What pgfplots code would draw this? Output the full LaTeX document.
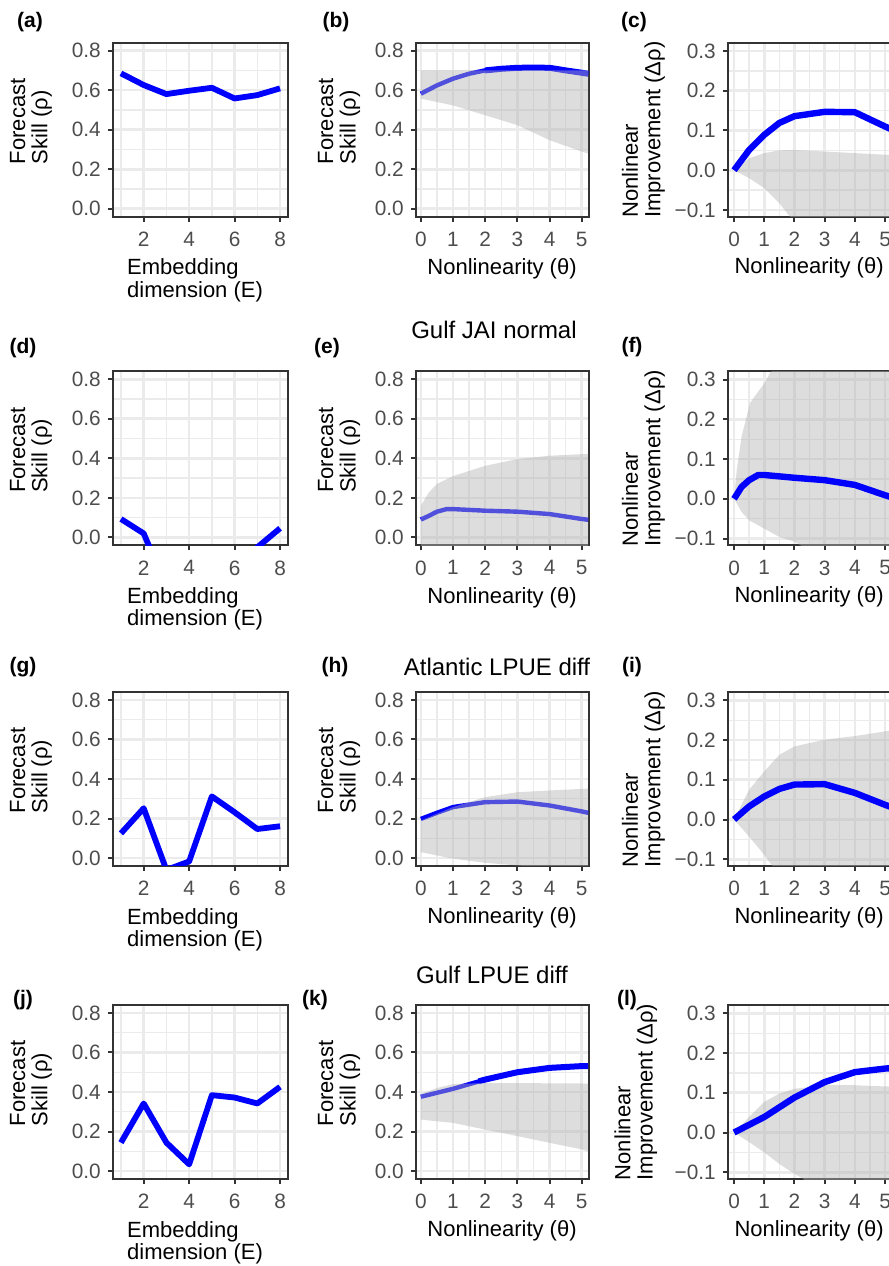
\documentclass[border=0pt]{standalone}
\usepackage{fontspec}
\setmainfont{Liberation Sans}
\usepackage{pgfplots}
\pgfplotsset{compat=1.18}
\definecolor{gg20}{HTML}{333333}
\definecolor{gg30}{HTML}{4D4D4D}
\definecolor{gg92}{HTML}{EBEBEB}
\definecolor{rib}{HTML}{B3B3B3}
\definecolor{lineblue}{HTML}{0000FF}
\pgfplotsset{
  ggbase/.style={
    scale only axis, anchor=south west, height=87pt,
    axis line style={draw=gg20, line width=1pt},
    tick style={draw=gg20, line width=1pt},
    major tick length=2.6pt, minor tick length=0pt,
    tick align=outside, xtick pos=left, ytick pos=left,
    xmajorgrids=true, ymajorgrids=true, xminorgrids=true, yminorgrids=true,
    major grid style={draw=gg92, line width=1.3pt},
    minor grid style={draw=gg92, line width=0.65pt},
    tick label style={font=\fontsize{10.4}{12}\selectfont, text=gg30},
    xticklabel style={yshift=-1.5pt},
    xlabel style={font=\fontsize{11}{11.2}\selectfont, align=left, anchor=center},
    ylabel style={font=\fontsize{11}{11.2}\selectfont, align=left, anchor=center},
  },
  col1/.style={ggbase, width=87.5pt, xmin=0.65, xmax=8.35, ymin=-0.04, ymax=0.84,
    xtick={2,4,6,8}, xticklabels={2,4,6,8}, minor xtick={1,3,5,7},
    ytick={0,0.2,0.4,0.6,0.8}, yticklabels={0.0,0.2,0.4,0.6,0.8}, minor ytick={0.1,0.3,0.5,0.7},
    xlabel={Embedding\\dimension (E)}, ylabel={Forecast\\Skill (ρ)},
    xlabel style={at={(axis description cs:0.469,-0.365)}},
    ylabel style={at={(axis description cs:-0.469,0.548)}},
  },
  col2/.style={ggbase, width=86.25pt, xmin=-0.15, xmax=5.21, ymin=-0.04, ymax=0.84,
    xtick={0,1,2,3,4,5}, xticklabels={0,1,2,3,4,5}, minor xtick={0.5,1.5,2.5,3.5,4.5},
    ytick={0,0.2,0.4,0.6,0.8}, yticklabels={0.0,0.2,0.4,0.6,0.8}, minor ytick={0.1,0.3,0.5,0.7},
    xlabel={Nonlinearity (θ)}, ylabel={Forecast\\Skill (ρ)},
    xlabel style={at={(axis description cs:0.499,-0.3)}},
    ylabel style={at={(axis description cs:-0.446,0.548)}},
  },
  col3/.style={ggbase, width=87pt, xmin=-0.2, xmax=5.56, ymin=-0.117, ymax=0.321,
    xtick={0,1,2,3,4,5}, xticklabels={0,1,2,3,4,5}, minor xtick={0.5,1.5,2.5,3.5,4.5,5.5},
    ytick={-0.1,0,0.1,0.2,0.3}, yticklabels={−0.1,0.0,0.1,0.2,0.3}, minor ytick={-0.05,0.05,0.15,0.25},
    xlabel={Nonlinearity (θ)}, ylabel={Nonlinear\\Improvement (Δρ)},
    xlabel style={at={(axis description cs:0.466,-0.296)}},
    ylabel style={at={(axis description cs:-0.486,0.5)}},
  },
  l1/.style={draw=lineblue, line width=2.9pt, line join=round},
  l2/.style={draw=lineblue, line width=2.2pt, line join=round},
  l2b/.style={draw=lineblue, line width=3pt, line join=round},
  l3/.style={draw=lineblue, line width=3.2pt, line join=round},
  rb/.style={fill=rib, fill opacity=0.45, draw=none},
}
\tikzset{lett/.style={font=\fontsize{10.5}{12}\selectfont\bfseries, anchor=center},
         ttl/.style={font=\fontsize{12}{14}\selectfont, anchor=center}}
\begin{document}
\begin{tikzpicture}
\useasboundingbox (0,0) rectangle (444.5pt,633pt);
\clip (0,0) rectangle (444.5pt,633pt);

% ---------------- Row 1 ----------------
\begin{axis}[col1, at={(56.5pt,524.65pt)}]
\addplot[l1] coordinates {(1,0.685)(2,0.626)(3,0.580)(4,0.597)(5,0.612)(6,0.558)(7,0.575)(8,0.609)};
\end{axis}
\begin{axis}[col2, at={(208pt,524.65pt)}]
\addplot[l2] coordinates {(0,0.582)(0.5,0.624)(1,0.658)(1.5,0.683)(2,0.70)(2.5,0.708)(3,0.713)(3.5,0.714)(4,0.713)(4.5,0.70)(5,0.688)(5.2,0.683)};
\addplot[l2b] coordinates {(2,0.70)(2.5,0.708)(3,0.713)(3.5,0.714)(4,0.713)(4.5,0.70)(5,0.688)(5.2,0.683)};
\addplot[rb] coordinates {(0,0.70)(5.2,0.70)(5.2,0.28)(5,0.289)(4,0.347)(3,0.423)(2,0.473)(1,0.523)(0,0.557)};
\end{axis}
\begin{axis}[col3, at={(364pt,524.65pt)}]
\addplot[rb] coordinates {(0,0)(0.5,0.03)(1,0.043)(1.5,0.05)(2,0.051)(3,0.047)(4,0.043)(5,0.039)(5.6,0.037)(5.6,-0.3)(3,-0.25)(1.85,-0.117)(1.5,-0.083)(1,-0.045)(0.5,-0.02)(0,0)};
\addplot[l3] coordinates {(0,0)(0.5,0.051)(1,0.089)(1.5,0.119)(2,0.136)(3,0.147)(4,0.146)(5,0.110)(5.6,0.09)};
\end{axis}

% ---------------- Row 2 ----------------
\begin{axis}[col1, at={(56.5pt,360.35pt)}]
\addplot[l1] coordinates {(1,0.093)(2,0.02)(3,-0.25)(4,-0.25)(5,-0.2)(6,-0.2)(7,-0.05)(8,0.046)};
\end{axis}
\begin{axis}[col2, at={(208pt,360.35pt)}]
\addplot[l2] coordinates {(0,0.09)(0.25,0.109)(0.5,0.13)(0.8,0.143)(1,0.143)(2,0.135)(3,0.13)(4,0.118)(5,0.093)(5.2,0.089)};
\addplot[rb] coordinates {(0,0.16)(0.25,0.227)(0.5,0.27)(1,0.31)(2,0.362)(3,0.396)(4,0.413)(5,0.421)(5.2,0.422)(5.2,-0.1)(0,-0.1)};
\end{axis}
\begin{axis}[col3, at={(364pt,360.35pt)}]
\addplot[rb] coordinates {(0,0)(0.09,0.072)(0.25,0.157)(0.53,0.241)(0.8,0.27)(1,0.29)(1.2,0.318)(2,0.37)(5.6,0.45)(5.6,-0.25)(2.5,-0.13)(2,-0.108)(1.5,-0.096)(1,-0.075)(0.5,-0.054)(0.25,-0.033)(0,0)};
\addplot[l3] coordinates {(0,0)(0.25,0.03)(0.5,0.047)(0.8,0.06)(1,0.06)(2,0.053)(3,0.047)(4,0.035)(5,0.009)(5.6,-0.005)};
\end{axis}

% ---------------- Row 3 ----------------
\begin{axis}[col1, at={(56.5pt,200pt)}]
\addplot[l1] coordinates {(1,0.125)(2,0.252)(3,-0.06)(4,-0.017)(5,0.312)(6,0.232)(7,0.147)(8,0.161)};
\end{axis}
\begin{axis}[col2, at={(208pt,200pt)}]
\addplot[l2] coordinates {(0,0.198)(0.5,0.229)(1,0.258)(2,0.283)(3,0.286)(4,0.266)(5,0.236)(5.2,0.229)};
\addplot[rb] coordinates {(0,0.19)(0.5,0.224)(1,0.258)(2,0.308)(3,0.333)(4,0.342)(5,0.35)(5.2,0.351)(5.2,-0.07)(4,-0.05)(3,-0.037)(2,-0.024)(1,-0.003)(0,0.03)};
\end{axis}
\begin{axis}[col3, at={(364pt,200pt)}]
\addplot[rb] coordinates {(0,0)(0.5,0.075)(1,0.121)(1.5,0.163)(2,0.184)(3,0.201)(4,0.21)(5,0.222)(5.6,0.228)(5.6,-0.3)(2,-0.2)(1.3,-0.12)(1,-0.089)(0.5,-0.043)(0,0)};
\addplot[l3] coordinates {(0,0)(0.5,0.033)(1,0.058)(1.5,0.077)(2,0.088)(3,0.089)(4,0.067)(5,0.037)(5.6,0.02)};
\end{axis}

% ---------------- Row 4 ----------------
\begin{axis}[col1, at={(56.5pt,43.5pt)}]
\addplot[l1] coordinates {(1,0.144)(2,0.342)(3,0.144)(4,0.034)(5,0.384)(6,0.372)(7,0.342)(8,0.426)};
\end{axis}
\begin{axis}[col2, at={(208pt,43.5pt)}]
\addplot[l2] coordinates {(0,0.376)(1,0.416)(2,0.463)(3,0.5)(4,0.522)(5,0.531)(5.2,0.531)};
\addplot[l2b] coordinates {(1.8,0.454)(2,0.463)(3,0.5)(4,0.522)(5,0.531)(5.2,0.531)};
\addplot[rb] coordinates {(0,0.39)(0.5,0.42)(1,0.44)(2,0.445)(3,0.445)(4,0.444)(5,0.443)(5.2,0.443)(5.2,0.10)(5,0.11)(4,0.143)(3,0.177)(2,0.21)(1,0.244)(0.25,0.256)(0,0.261)};
\end{axis}
\begin{axis}[col3, at={(364pt,43.5pt)}, ylabel style={at={(axis description cs:-0.53,0.5)}}]
\addplot[rb] coordinates {(0,0)(0.5,0.039)(1,0.077)(1.5,0.098)(2,0.11)(3,0.119)(4,0.119)(5,0.116)(5.6,0.115)(5.6,-0.3)(3,-0.2)(2.3,-0.117)(2,-0.104)(1.5,-0.079)(1,-0.05)(0.5,-0.024)(0,0)};
\addplot[l3] coordinates {(0,0)(1,0.039)(2,0.088)(3,0.127)(4,0.152)(5,0.161)(5.6,0.164)};
\end{axis}

% ---------------- Panel letters and titles ----------------
\node[lett] at (15pt,622pt) {(a)};
\node[lett] at (168pt,622pt) {(b)};
\node[lett] at (317pt,622pt) {(c)};
\node[lett] at (11.5pt,459pt) {(d)};
\node[lett] at (163.5pt,459pt) {(e)};
\node[lett] at (316pt,459.5pt) {(f)};
\node[lett] at (11.5pt,299.5pt) {(g)};
\node[lett] at (167.5pt,299.5pt) {(h)};
\node[lett] at (316pt,299.5pt) {(i)};
\node[lett] at (11.5pt,133pt) {(j)};
\node[lett] at (157.5pt,133pt) {(k)};
\node[lett] at (313.5pt,133pt) {(l)};
\node[ttl] at (247pt,468pt) {Gulf JAI normal};
\node[ttl] at (248.5pt,299.5pt) {Atlantic LPUE diff};
\node[ttl] at (246pt,145.5pt) {Gulf LPUE diff};
\end{tikzpicture}
\end{document}
